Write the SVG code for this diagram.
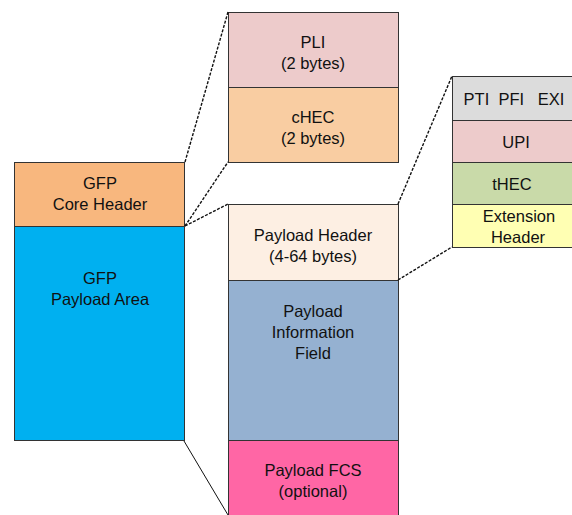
<svg xmlns="http://www.w3.org/2000/svg" width="572" height="515" viewBox="0 0 572 515">
  <style>
    .box { stroke: #333; stroke-width: 1; }
    text { font-family: "Liberation Sans", Arial, sans-serif; font-size: 16.5px; fill: #111; text-anchor: middle; }
    .dash { stroke: #111; stroke-width: 1.4; stroke-dasharray: 3 1.5; fill: none; }
    .solid { stroke: #111; stroke-width: 1; fill: none; }
  </style>
  <rect width="572" height="515" fill="#fff"/>

  <!-- GFP frame -->
  <g id="core-header">
    <rect class="box" x="14.5" y="162.5" width="170" height="64" fill="#F8B77E"/>
    <text x="100" y="189">GFP</text>
    <text x="100" y="210">Core Header</text>
  </g>
  <g id="payload-area">
    <rect class="box" x="14.5" y="226.5" width="170" height="214" fill="#00B0F0"/>
    <text x="100" y="284">GFP</text>
    <text x="100" y="305">Payload Area</text>
  </g>

  <!-- Core header fields -->
  <g id="pli">
    <rect class="box" x="228.5" y="12.5" width="170" height="75" fill="#EDCBCB"/>
    <text x="313" y="48">PLI</text>
    <text x="313" y="69">(2 bytes)</text>
  </g>
  <g id="chec">
    <rect class="box" x="228.5" y="87.5" width="170" height="75" fill="#F9CDA2"/>
    <text x="313" y="123">cHEC</text>
    <text x="313" y="144">(2 bytes)</text>
  </g>

  <!-- Payload area fields -->
  <g id="payload-header">
    <rect class="box" x="228.5" y="204.5" width="170" height="76" fill="#FDEFE3"/>
    <text x="313" y="241">Payload Header</text>
    <text x="313" y="262">(4-64 bytes)</text>
  </g>
  <g id="payload-info">
    <rect class="box" x="228.5" y="280.5" width="170" height="160" fill="#95B1D1"/>
    <text x="313" y="317">Payload</text>
    <text x="313" y="338">Information</text>
    <text x="313" y="359">Field</text>
  </g>
  <g id="payload-fcs">
    <rect class="box" x="228.5" y="440.5" width="170" height="80" fill="#FF66A5"/>
    <text x="313" y="476">Payload FCS</text>
    <text x="313" y="497">(optional)</text>
  </g>

  <!-- Payload header fields -->
  <g id="type">
    <rect class="box" x="452.5" y="76.5" width="130" height="44" fill="#DCDCDC"/>
    <text x="514" y="105" xml:space="preserve">PTI  PFI   EXI</text>
  </g>
  <g id="upi">
    <rect class="box" x="452.5" y="120.5" width="130" height="42" fill="#EDCBCB"/>
    <text x="516" y="148">UPI</text>
  </g>
  <g id="thec">
    <rect class="box" x="452.5" y="162.5" width="130" height="42" fill="#C9DAA9"/>
    <text x="512" y="190">tHEC</text>
  </g>
  <g id="extension-header">
    <rect class="box" x="452.5" y="204.5" width="130" height="43" fill="#FFFFB3"/>
    <text x="519" y="222">Extension</text>
    <text x="518" y="243">Header</text>
  </g>

  <!-- Expansion lines -->
  <g id="connectors">
    <line class="dash" x1="185" y1="162" x2="228" y2="12"/>
    <line class="dash" x1="185" y1="226" x2="228" y2="162"/>
    <line class="dash" x1="185" y1="226" x2="228" y2="204"/>
    <line class="solid" x1="184" y1="441" x2="228" y2="515"/>
    <line class="dash" x1="398" y1="204" x2="452" y2="76"/>
    <line class="dash" x1="398" y1="280" x2="452" y2="247"/>
  </g>
</svg>
